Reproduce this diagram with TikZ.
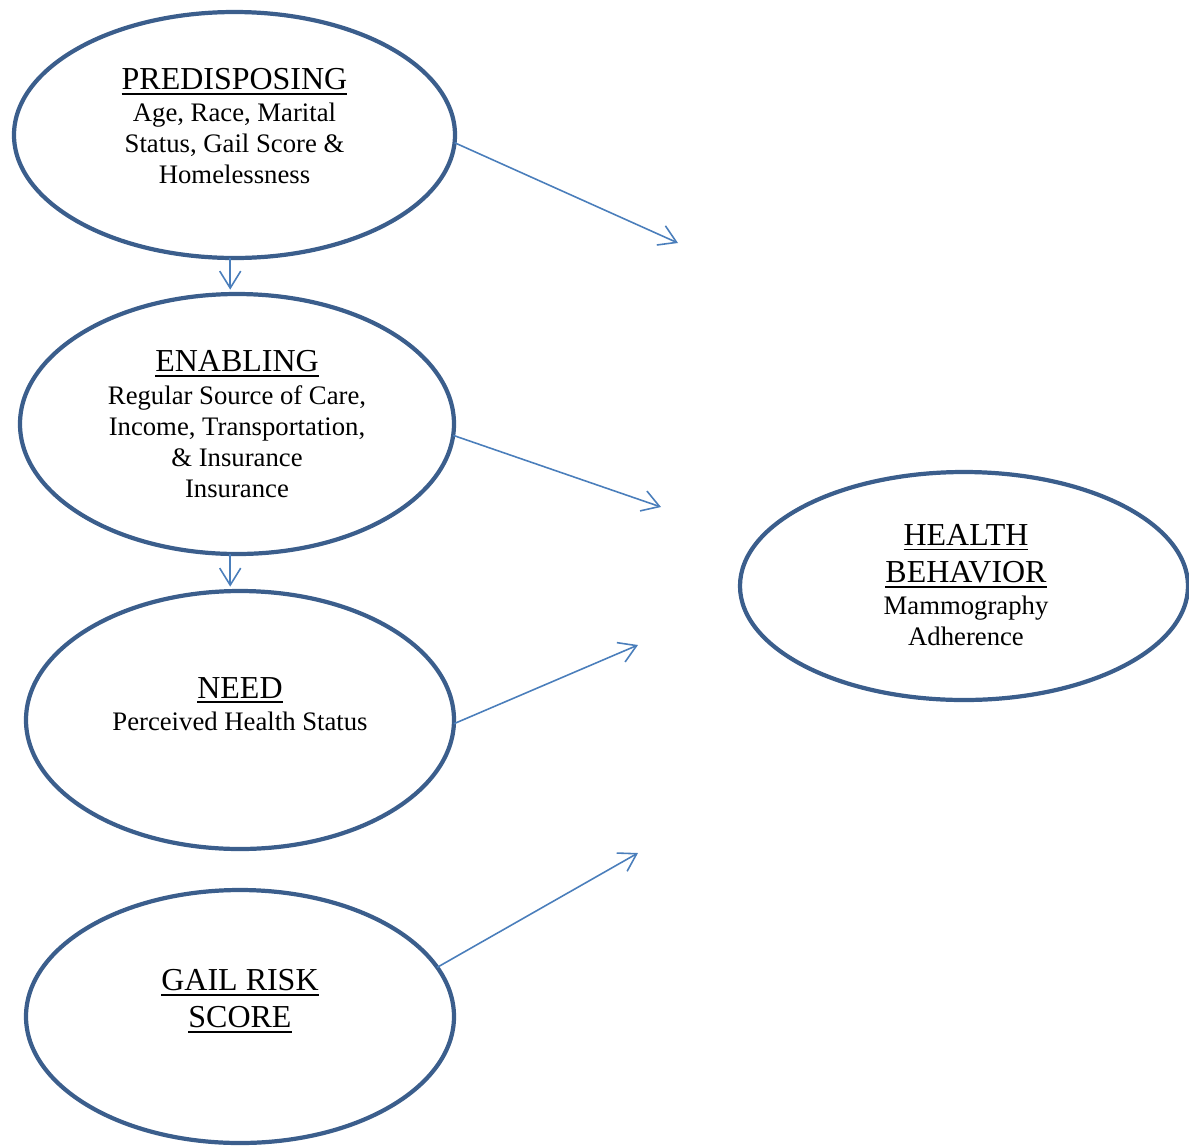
\documentclass[tikz,border=0pt]{standalone}
\usepackage{fontspec}
\setmainfont{Liberation Serif}
\usetikzlibrary{arrows.meta,shapes.geometric,positioning}
\definecolor{ovalblue}{HTML}{3B5E8C}
\definecolor{arrowblue}{HTML}{4A7EBB}
\newcommand{\hd}[1]{{\fontsize{18.2}{21}\selectfont\leavevmode\vtop{\hbox{#1}\kern1.9pt\hrule height 1.1pt}}}
\tikzset{
  oval/.style={ellipse, draw=ovalblue, line width=2.4pt, inner sep=0pt, outer sep=0pt},
  txt/.style={align=center, font=\fontsize{15.2}{17.6}\selectfont, inner sep=0pt},
  arr/.style={draw=arrowblue, line width=0.9pt, -{Straight Barb[length=3.4mm,width=4.2mm,line width=0.9pt]}}
}
\begin{document}
\begin{tikzpicture}
\useasboundingbox (0,0) rectangle (23.78,-22.94);

% the four ovals on the left
\node[oval, minimum width=8.82cm, minimum height=4.92cm] (pre) at (4.69,-2.70) {};
\node[oval, minimum width=8.68cm, minimum height=5.20cm] (ena) at (4.74,-8.48) {};
\node[oval, minimum width=8.56cm, minimum height=5.16cm] (need) at (4.80,-14.40) {};
\node[oval, minimum width=8.56cm, minimum height=5.06cm] (gail) at (4.80,-20.33) {};
% outcome
\node[oval, minimum width=8.96cm, minimum height=4.56cm] (beh) at (19.28,-11.72) {};

% texts
\node[txt] (pretxt) at (4.69,-2.52) {\hd{PREDISPOSING}\\[1pt] Age, Race, Marital\\ Status, Gail Score \&\\ Homelessness};
\node[txt] (enatxt) at (4.74,-8.48) {\hd{ENABLING}\\[1pt] Regular Source of Care,\\ Income, Transportation,\\ \& Insurance\\ Insurance};
\node[txt] (needtxt) at (4.80,-14.08) {\hd{NEED}\\[1pt] Perceived Health Status};
\node[txt] (gailtxt) at (4.80,-20.02) {\hd{GAIL RISK}\\[3.4pt] \hd{SCORE}};
\node[txt] (behtxt) at (19.32,-11.70) {\hd{HEALTH}\\[3.4pt] \hd{BEHAVIOR}\\[1pt] Mammography\\ Adherence};

% free arrow ends
\coordinate (e1) at (13.56,-4.86);
\coordinate (e2) at (13.22,-10.14);
\coordinate (e3) at (12.76,-12.90);
\coordinate (e4) at (12.76,-17.06);

\draw[arr] (pre.-2) -- (e1);
\draw[arr] (ena.-3) -- (e2);
\draw[arr] (need.-1.3) -- (e3);
\draw[arr] (gail.14.2) -- (e4);

\draw[arr, shorten >=2.5pt] (pre.-92) -- (pre.-92 |- ena.north);
\draw[arr, shorten >=2.5pt] (ena.-93) -- (ena.-93 |- need.north);

\end{tikzpicture}
\end{document}
